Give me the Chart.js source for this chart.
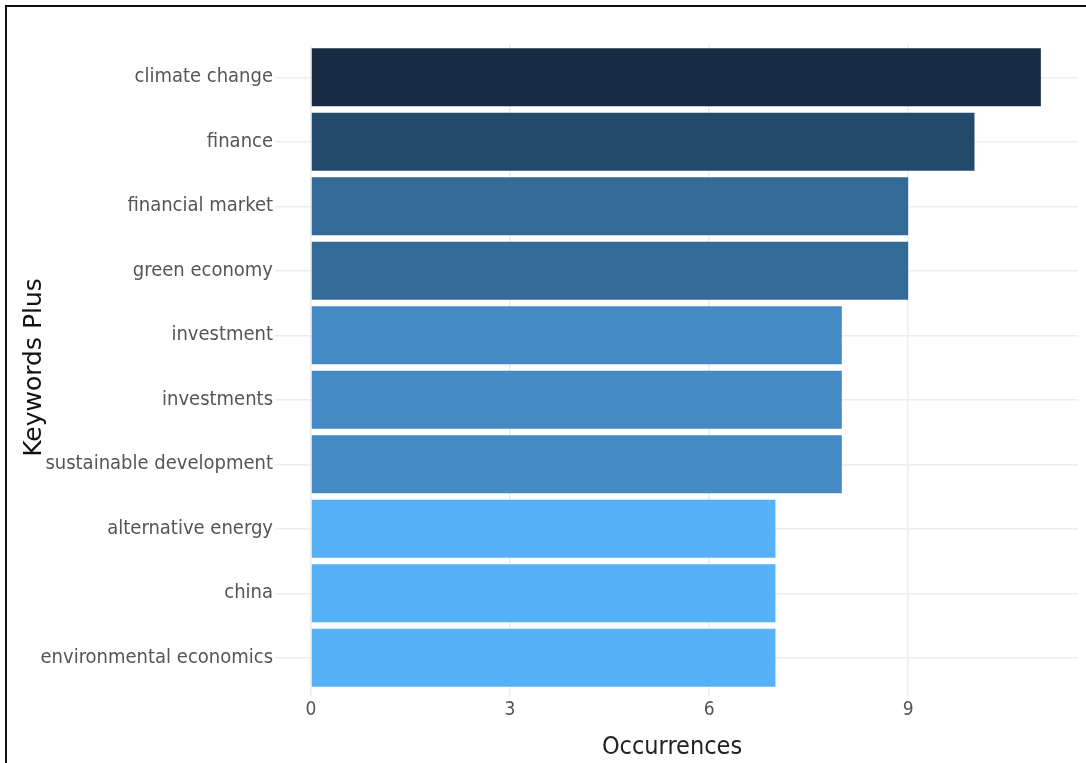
<!DOCTYPE html>
<html>
<head>
<meta charset="utf-8">
<script src="https://cdn.jsdelivr.net/npm/chart.js@4"></script>
<style>
  html, body { margin: 0; padding: 0; background: #fff; overflow: hidden; }
  .frame { position: absolute; left: 5px; top: 5px; width: 1200px; height: 900px; border: 2px solid #111; }
  .wrap { position: absolute; left: 0; top: 0; width: 1086px; height: 763px; }
</style>
</head>
<body>
<div class="frame"></div>
<div class="wrap"><canvas id="myChart" width="1086" height="763"></canvas></div>
<script>
// keywords and how often they occur
const keywords = ['climate change', 'finance', 'financial market', 'green economy', 'investment',
    'investments', 'sustainable development', 'alternative energy', 'china', 'environmental economics'];
const occurrences = [11, 10, 9, 9, 8, 8, 8, 7, 7, 7];
const xTicks = [0, 3, 6, 9];

// fill shade per count (dark = more)
const shade = { 11: '#172b43', 10: '#23496b', 9: '#346a97', 8: '#448ac5', 7: '#56b1f7' };

const ctx = document.getElementById('myChart').getContext('2d');

new Chart(ctx, {
    type: 'bar',
    data: {
        labels: keywords,
        datasets: [{
            label: 'Occurrences',
            data: occurrences,
            backgroundColor: occurrences.map(v => shade[v]),
            borderWidth: 0,
            barPercentage: 0.9,
            categoryPercentage: 1
        }]
    },
    options: {
        indexAxis: 'y',
        responsive: false,
        animation: false,
        layout: { padding: { top: 45, right: 8, left: 0, bottom: 0 } },
        plugins: {
            legend: { display: false },
            tooltip: { enabled: false }
        },
        scales: {
            x: {
                min: 0,
                max: 11.56,
                afterBuildTicks: s => { s.ticks = xTicks.map(v => ({ value: v })); },
                afterFit: s => { s.height = 73; },
                border: { display: false },
                grid: { color: '#ededed', lineWidth: 1.5, tickLength: 6 },
                ticks: {
                    padding: 3,
                    color: '#555',
                    font: { family: 'DejaVu Sans Condensed', size: 19 }
                },
                title: {
                    display: true,
                    text: 'Occurrences\u2003\u2003',
                    color: '#222',
                    padding: { top: 0, bottom: 1 },
                    font: { family: 'DejaVu Sans Condensed', size: 25 }
                }
            },
            y: {
                afterFit: s => { s.width = 311; },
                border: { display: false },
                grid: { color: '#ededed', lineWidth: 1.5, offset: false, tickLength: 36 },
                ticks: {
                    padding: 2,
                    color: '#555',
                    font: { family: 'DejaVu Sans Condensed', size: 20 }
                },
                title: {
                    display: true,
                    text: 'Keywords Plus',
                    color: '#111',
                    padding: { top: 19, bottom: 0 },
                    font: { family: 'DejaVu Sans', size: 25 }
                }
            }
        }
    }
});
</script>
</body>
</html>
